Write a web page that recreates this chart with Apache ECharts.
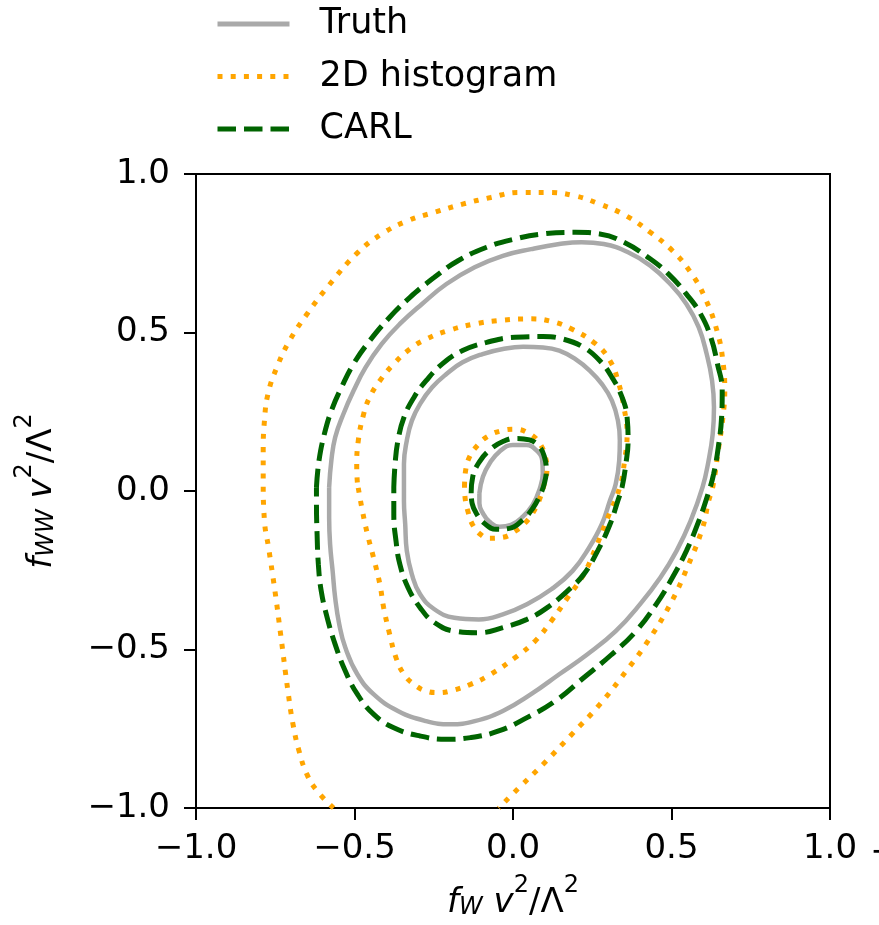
<!DOCTYPE html>
<html>
<head>
<meta charset="utf-8">
<script src="https://cdn.jsdelivr.net/npm/echarts@6/dist/echarts.min.js"></script>
<style>
html,body{margin:0;padding:0;background:#fff;}
#chart{width:879px;height:925px;}
</style>
</head>
<body>
<div id="chart"></div>
<script>
// ---- Data ----
var seriesNames = ['Truth', '2D histogram', 'CARL'];
var axisTicks = [-1.0, -0.5, 0.0, 0.5, 1.0];

var truthInner = [[-0.106,-0.007],[-0.095,0.045],[-0.074,0.087],[-0.043,0.124],[-0.001,0.145],[0.042,0.145],[0.073,0.129],[0.092,0.098],[0.094,0.056],[0.083,0.003],[0.062,-0.044],[0.031,-0.081],[-0.006,-0.107],[-0.043,-0.113],[-0.074,-0.097],[-0.095,-0.070],[-0.106,-0.039],[-0.106,-0.007]];

var truthMiddle = [[-0.344,0.012],[-0.344,0.085],[-0.335,0.159],[-0.319,0.222],[-0.293,0.275],[-0.255,0.327],[-0.210,0.369],[-0.159,0.406],[-0.096,0.432],[-0.032,0.448],[0.032,0.455],[0.095,0.453],[0.146,0.443],[0.197,0.416],[0.242,0.380],[0.280,0.338],[0.312,0.285],[0.331,0.222],[0.337,0.159],[0.335,0.096],[0.324,0.022],[0.306,-0.030],[0.280,-0.105],[0.240,-0.179],[0.188,-0.252],[0.121,-0.310],[0.044,-0.357],[-0.032,-0.389],[-0.108,-0.405],[-0.185,-0.400],[-0.248,-0.373],[-0.293,-0.326],[-0.319,-0.263],[-0.335,-0.189],[-0.340,-0.105],[-0.344,-0.032],[-0.344,0.012]];

var truthOuter = [[-0.580,0.012],[-0.573,0.096],[-0.561,0.169],[-0.535,0.243],[-0.503,0.316],[-0.465,0.390],[-0.414,0.464],[-0.357,0.527],[-0.287,0.590],[-0.210,0.653],[-0.121,0.706],[-0.032,0.742],[0.057,0.763],[0.146,0.779],[0.216,0.785],[0.286,0.779],[0.363,0.753],[0.433,0.711],[0.496,0.653],[0.547,0.590],[0.586,0.516],[0.611,0.432],[0.628,0.348],[0.634,0.264],[0.630,0.180],[0.617,0.096],[0.598,0.012],[0.560,-0.095],[0.516,-0.189],[0.465,-0.273],[0.401,-0.357],[0.324,-0.442],[0.235,-0.515],[0.146,-0.578],[0.057,-0.641],[-0.032,-0.694],[-0.121,-0.726],[-0.198,-0.736],[-0.274,-0.726],[-0.363,-0.694],[-0.440,-0.641],[-0.491,-0.578],[-0.529,-0.494],[-0.548,-0.421],[-0.561,-0.337],[-0.569,-0.252],[-0.577,-0.168],[-0.580,-0.084],[-0.580,0.012]];

var histInner = [[-0.153,0.014],[-0.150,0.061],[-0.137,0.108],[-0.111,0.145],[-0.079,0.173],[-0.037,0.190],[0.005,0.195],[0.050,0.182],[0.083,0.152],[0.102,0.108],[0.107,0.066],[0.099,0.024],[0.086,-0.020],[0.068,-0.060],[0.042,-0.097],[0.005,-0.128],[-0.032,-0.146],[-0.074,-0.149],[-0.100,-0.139],[-0.127,-0.107],[-0.142,-0.065],[-0.151,-0.023],[-0.153,0.014]];

var histMiddle = [[-0.491,0.027],[-0.493,0.075],[-0.488,0.159],[-0.471,0.243],[-0.452,0.296],[-0.420,0.348],[-0.376,0.401],[-0.325,0.448],[-0.274,0.479],[-0.204,0.506],[-0.121,0.527],[-0.032,0.539],[0.057,0.543],[0.121,0.535],[0.185,0.511],[0.261,0.464],[0.306,0.411],[0.331,0.348],[0.350,0.264],[0.360,0.180],[0.352,0.096],[0.337,0.012],[0.299,-0.084],[0.261,-0.179],[0.223,-0.263],[0.172,-0.337],[0.121,-0.410],[0.070,-0.473],[0.006,-0.526],[-0.070,-0.578],[-0.134,-0.610],[-0.198,-0.631],[-0.236,-0.636],[-0.274,-0.631],[-0.312,-0.610],[-0.344,-0.578],[-0.369,-0.526],[-0.389,-0.452],[-0.408,-0.368],[-0.420,-0.294],[-0.440,-0.210],[-0.459,-0.137],[-0.475,-0.063],[-0.491,0.027]];

var histOuter = [[-0.566,-1.0],[-0.618,-0.946],[-0.650,-0.894],[-0.675,-0.820],[-0.694,-0.736],[-0.710,-0.631],[-0.733,-0.452],[-0.751,-0.315],[-0.771,-0.179],[-0.784,-0.095],[-0.788,0.038],[-0.788,0.127],[-0.784,0.222],[-0.773,0.306],[-0.745,0.390],[-0.705,0.474],[-0.652,0.555],[-0.580,0.650],[-0.490,0.752],[-0.414,0.811],[-0.331,0.853],[-0.248,0.879],[-0.159,0.905],[-0.070,0.926],[0.019,0.942],[0.102,0.942],[0.191,0.932],[0.274,0.905],[0.357,0.868],[0.433,0.816],[0.503,0.758],[0.560,0.690],[0.605,0.611],[0.645,0.500],[0.662,0.411],[0.668,0.316],[0.662,0.232],[0.649,0.138],[0.630,0.012],[0.617,-0.032],[0.598,-0.116],[0.554,-0.231],[0.496,-0.357],[0.426,-0.473],[0.357,-0.568],[0.274,-0.673],[0.185,-0.768],[0.095,-0.862],[0.019,-0.936],[-0.045,-1.0]];

var carlInner = [[-0.132,-0.007],[-0.127,0.045],[-0.106,0.092],[-0.074,0.129],[-0.032,0.156],[0.010,0.166],[0.052,0.161],[0.083,0.140],[0.099,0.108],[0.105,0.066],[0.099,0.024],[0.083,-0.018],[0.062,-0.055],[0.031,-0.091],[-0.011,-0.118],[-0.053,-0.121],[-0.090,-0.102],[-0.116,-0.070],[-0.129,-0.039],[-0.132,-0.007]];

var carlMiddle = [[-0.376,0.012],[-0.372,0.085],[-0.363,0.159],[-0.344,0.232],[-0.312,0.296],[-0.274,0.348],[-0.223,0.401],[-0.159,0.443],[-0.083,0.469],[0.006,0.485],[0.095,0.487],[0.159,0.479],[0.223,0.453],[0.274,0.411],[0.312,0.359],[0.344,0.296],[0.360,0.232],[0.363,0.159],[0.356,0.085],[0.344,0.012],[0.331,-0.030],[0.306,-0.105],[0.267,-0.189],[0.223,-0.263],[0.172,-0.315],[0.108,-0.368],[0.044,-0.405],[-0.032,-0.431],[-0.108,-0.447],[-0.185,-0.442],[-0.248,-0.415],[-0.293,-0.368],[-0.331,-0.305],[-0.357,-0.231],[-0.369,-0.158],[-0.376,-0.074],[-0.376,0.012]];

var carlOuter = [[-0.620,0.012],[-0.612,0.096],[-0.595,0.180],[-0.573,0.253],[-0.541,0.327],[-0.503,0.401],[-0.452,0.474],[-0.389,0.548],[-0.325,0.611],[-0.248,0.674],[-0.172,0.727],[-0.083,0.769],[0.006,0.795],[0.095,0.811],[0.197,0.816],[0.274,0.811],[0.350,0.785],[0.426,0.737],[0.490,0.685],[0.547,0.621],[0.592,0.558],[0.624,0.485],[0.645,0.401],[0.660,0.316],[0.658,0.232],[0.649,0.148],[0.633,0.054],[0.615,-0.010],[0.586,-0.095],[0.547,-0.189],[0.503,-0.273],[0.452,-0.357],[0.388,-0.442],[0.312,-0.515],[0.223,-0.589],[0.134,-0.662],[0.044,-0.715],[-0.045,-0.757],[-0.134,-0.778],[-0.210,-0.783],[-0.293,-0.773],[-0.376,-0.747],[-0.440,-0.704],[-0.491,-0.641],[-0.529,-0.568],[-0.561,-0.484],[-0.586,-0.400],[-0.605,-0.315],[-0.614,-0.231],[-0.618,-0.137],[-0.620,-0.042],[-0.620,0.012]];

// ---- Styles ----
var FONT = 'DejaVu Sans';
var styleTruth = {color: '#a9a9a9', width: 4.5, type: 'solid'};
var styleHist = {color: '#ffa500', width: 5, type: [5, 8.2], cap: 'butt'};
var styleCarl = {color: '#006400', width: 5, type: [18.5, 8], cap: 'butt'};

function mkSeries(name, data, ls, z) {
  return {
    name: name, type: 'line', data: data, showSymbol: false, symbol: 'none',
    smooth: 0.45, clip: true, z: z,
    lineStyle: ls, itemStyle: {color: ls.color},
    emphasis: {disabled: true}, silent: true
  };
}

var series = [
  mkSeries(seriesNames[0], truthOuter, styleTruth, 2),
  mkSeries(seriesNames[0], truthMiddle, styleTruth, 2),
  mkSeries(seriesNames[0], truthInner, styleTruth, 2),
  mkSeries(seriesNames[1], histOuter, styleHist, 3),
  mkSeries(seriesNames[1], histMiddle, styleHist, 3),
  mkSeries(seriesNames[1], histInner, styleHist, 3),
  mkSeries(seriesNames[2], carlOuter, styleCarl, 4),
  mkSeries(seriesNames[2], carlMiddle, styleCarl, 4),
  mkSeries(seriesNames[2], carlInner, styleCarl, 4)
];

function fmt(v) {
  return (v < 0 ? '\u2212' : '') + Math.abs(v).toFixed(1);
}

var nameRich = {
  i: {fontFamily: FONT, fontSize: 34, fontStyle: 'italic', color: '#000', verticalAlign: 'bottom', lineHeight: 46},
  n: {fontFamily: FONT, fontSize: 34, color: '#000', verticalAlign: 'bottom', lineHeight: 46},
  sub: {fontFamily: FONT, fontSize: 24, fontStyle: 'italic', color: '#000', verticalAlign: 'bottom', lineHeight: 38},
  sup: {fontFamily: FONT, fontSize: 24, color: '#000', verticalAlign: 'top', lineHeight: 46}
};

var axisCommon = {
  type: 'value', min: axisTicks[0], max: axisTicks[axisTicks.length - 1], interval: 0.5,
  splitLine: {show: false},
  axisLine: {show: true, onZero: false, lineStyle: {color: '#000', width: 2}},
  axisTick: {show: true, length: 12, lineStyle: {color: '#000', width: 2}},
  axisLabel: {fontFamily: FONT, fontSize: 34, color: '#000', formatter: fmt},
  nameLocation: 'middle',
  nameTextStyle: {rich: nameRich}
};

var chart = echarts.init(document.getElementById('chart'), null, {renderer: 'canvas'});
chart.setOption({
  animation: false,
  backgroundColor: '#fff',
  grid: {left: 196, right: 49, top: 174, bottom: 117, show: true, borderColor: '#000', borderWidth: 2, backgroundColor: 'transparent'},
  legend: {
    data: seriesNames, orient: 'vertical', left: 215, top: 4, padding: 0,
    itemWidth: 72, itemHeight: 14, itemGap: 12.5,
    itemStyle: {opacity: 0},
    lineStyle: {width: 5},
    textStyle: {fontFamily: FONT, fontSize: 35, color: '#000', lineHeight: 40, padding: [0, 0, 0, 25]},
    selectedMode: false
  },
  xAxis: Object.assign({}, axisCommon, {
    name: '{i|f}{sub|W}{i| v}{sup|2}{n|/Λ}{sup|2}',
    nameGap: 66,
    axisLabel: Object.assign({}, axisCommon.axisLabel, {margin: 24})
  }),
  yAxis: Object.assign({}, axisCommon, {
    name: '{i|f}{sub|WW}{i| v}{sup|2}{n|/Λ}{sup|2}',
    nameGap: 137,
    axisLabel: Object.assign({}, axisCommon.axisLabel, {margin: 26})
  }),
  graphic: [{
    type: 'text', left: 870, top: 836,
    style: {text: '\u2212', fontFamily: FONT, fontSize: 34, fill: '#000'}
  }],
  series: series
});
</script>
</body>
</html>
